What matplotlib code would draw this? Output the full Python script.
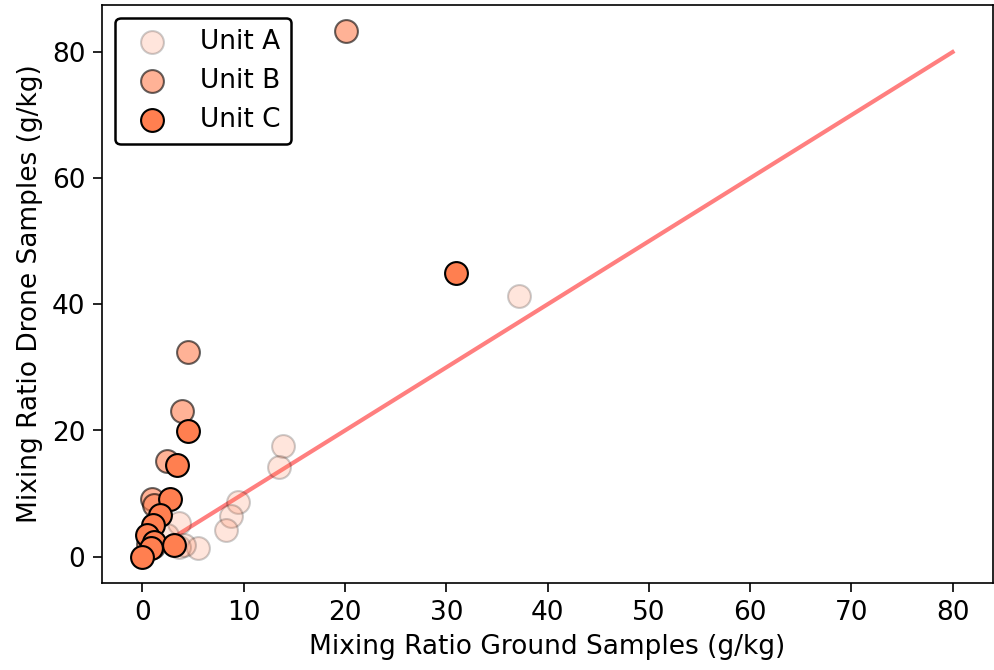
import matplotlib
matplotlib.use("Agg")
import matplotlib.pyplot as plt

# ground (x) vs drone (y) mixing ratios, g/kg
unit_a_ground = [37.2, 13.9, 13.5, 9.4, 8.7, 8.2, 5.5, 3.6, 3.6, 2.4, 4.1, 0.6]
unit_a_drone = [41.3, 17.6, 14.2, 8.7, 6.5, 4.3, 1.4, 5.4, 1.5, 3.4, 1.8, 2.8]

unit_b_ground = [20.1, 4.5, 3.9, 2.4, 0.9, 1.1, 0.5, 1.0]
unit_b_drone = [83.3, 32.4, 23.1, 15.1, 9.1, 8.2, 2.0, 1.5]

unit_c_ground = [31.0, 4.5, 3.4, 2.7, 1.7, 1.0, 0.4, 1.1, 3.1, 0.8, 0.0]
unit_c_drone = [44.9, 19.9, 14.6, 9.1, 6.6, 5.0, 3.4, 2.3, 1.8, 1.3, 0.0]

line_x = [0, 80]
line_y = [0, 80]

plt.rcParams["font.size"] = 12.7

fig = plt.figure(figsize=(6.627, 4.467), dpi=150)
ax = fig.add_axes([0.1026, 0.13, 0.8964, 0.8625])

ax.scatter(unit_a_ground, unit_a_drone, s=120, color="coral", alpha=0.2,
           edgecolor="black", linewidth=1, label="Unit A", zorder=3)
ax.scatter(unit_b_ground, unit_b_drone, s=120, color="coral", alpha=0.6,
           edgecolor="black", linewidth=1, label="Unit B", zorder=3)
ax.scatter(unit_c_ground, unit_c_drone, s=120, color="coral", alpha=1.0,
           edgecolor="black", linewidth=1, label="Unit C", zorder=3)
ax.plot(line_x, line_y, color="red", alpha=0.5, linewidth=2, zorder=2)

ax.set_xlabel("Mixing Ratio Ground Samples (g/kg)")
ax.set_ylabel("Mixing Ratio Drone Samples (g/kg)")
ax.set_xticks(range(0, 81, 10))
ax.set_yticks(range(0, 81, 20))
ax.tick_params(length=4.5)

leg = ax.legend(loc="upper left", framealpha=1, edgecolor="black")
leg.get_frame().set_linewidth(1.2)

fig.savefig("out.png", dpi=150)
